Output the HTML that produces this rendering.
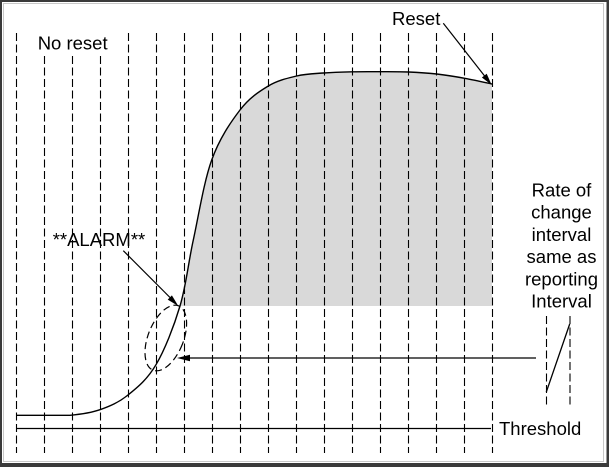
<!DOCTYPE html>
<html>
<head>
<meta charset="utf-8">
<style>
html,body{margin:0;padding:0;background:#fff;}
svg{display:block;}
text{font-family:"Liberation Sans",Arial,sans-serif;font-size:18.5px;fill:#000;}
</style>
</head>
<body>
<svg width="609" height="467" viewBox="0 0 609 467" xmlns="http://www.w3.org/2000/svg">
<rect x="0" y="0" width="609" height="467" fill="#fff"/>
<!-- gray fill -->
<path fill="#d9d9d9" d="M180,306 C186.2,285.2 188,264.3 193.3,240 C198.6,215.7 203.9,181.7 211.7,160 C219.5,138.3 230.6,122.3 240,110 C249.4,97.7 258.9,91.7 268.3,86 C277.8,80.3 287.5,78.2 296.7,76 C305.9,73.8 314.1,73.7 323.3,73 C332.5,72.3 342.6,72 352,71.8 C361.5,71.6 370.6,71.7 380,71.7 C389.5,71.7 399.3,71.6 408.7,72 C418.2,72.4 427.4,73 436.7,74 C446,75.1 455.5,76.6 464.7,78.3 C473.9,80 482.8,82 492,84 L492,306 Z"/>
<!-- dashed verticals -->
<g stroke="#000" stroke-width="1.1" stroke-dasharray="8,3.5" fill="none">
<line x1="16.5" y1="33" x2="16.5" y2="453"/>
<line x1="44.5" y1="56" x2="44.5" y2="453"/>
<line x1="72.5" y1="56" x2="72.5" y2="453"/>
<line x1="100.5" y1="56" x2="100.5" y2="453"/>
<line x1="128.5" y1="33" x2="128.5" y2="453"/>
<line x1="156.5" y1="33" x2="156.5" y2="453"/>
<line x1="184.5" y1="33" x2="184.5" y2="453"/>
<line x1="212.5" y1="33" x2="212.5" y2="453"/>
<line x1="240.5" y1="33" x2="240.5" y2="453"/>
<line x1="268.5" y1="33" x2="268.5" y2="453"/>
<line x1="296.5" y1="33" x2="296.5" y2="453"/>
<line x1="324.5" y1="33" x2="324.5" y2="453"/>
<line x1="352.5" y1="33" x2="352.5" y2="453"/>
<line x1="380.5" y1="33" x2="380.5" y2="453"/>
<line x1="408.5" y1="33" x2="408.5" y2="453"/>
<line x1="436.5" y1="33" x2="436.5" y2="453"/>
<line x1="464.5" y1="33" x2="464.5" y2="453"/>
<line x1="492.5" y1="33" x2="492.5" y2="453"/>
<line x1="546.5" y1="316" x2="546.5" y2="405"/>
<line x1="570" y1="316" x2="570" y2="405"/>
<ellipse cx="165.8" cy="338" rx="17.7" ry="34.6" transform="rotate(21.6 165.8 338)" stroke-width="1.2" stroke-dasharray="7,4"/>
</g>
<!-- main curve -->
<path fill="none" stroke="#000" stroke-width="1.4" d="M16,415.3 L70,415.3 C79.7,414.4 90.3,413.1 100,409.7 C109.7,406.3 118.7,402.5 128,395 C137.3,387.5 147.3,379.5 156,364.7 C164.7,349.9 173.8,326.8 180,306 C186.2,285.2 188,264.3 193.3,240 C198.6,215.7 203.9,181.7 211.7,160 C219.5,138.3 230.6,122.3 240,110 C249.4,97.7 258.9,91.7 268.3,86 C277.8,80.3 287.5,78.2 296.7,76 C305.9,73.8 314.1,73.7 323.3,73 C332.5,72.3 342.6,72 352,71.8 C361.5,71.6 370.6,71.7 380,71.7 C389.5,71.7 399.3,71.6 408.7,72 C418.2,72.4 427.4,73 436.7,74 C446,75.1 455.5,76.6 464.7,78.3 C473.9,80 482.8,82 492,84"/>
<!-- threshold line -->
<line x1="16" y1="428.5" x2="491" y2="428.5" stroke="#000" stroke-width="1.3"/>
<!-- horizontal arrow -->
<line x1="186" y1="358" x2="536" y2="358" stroke="#000" stroke-width="1.2"/>
<polygon points="177,358 190,354.8 190,361.2" fill="#000"/>
<!-- slanted line right -->
<line x1="569.7" y1="324" x2="546.3" y2="392" stroke="#000" stroke-width="1.3"/>
<!-- ALARM arrow -->
<line x1="123.3" y1="250.7" x2="172" y2="299.5" stroke="#000" stroke-width="1.2"/>
<polygon points="178.3,306 167.7,299.6 171.9,295.4" fill="#000"/>
<!-- Reset arrow -->
<line x1="443.3" y1="23.3" x2="486" y2="77.8" stroke="#000" stroke-width="1.2"/>
<polygon points="491.7,85 481.9,77.5 486.7,73.8" fill="#000"/>
<!-- text -->
<text x="37.7" y="49.3">No reset</text>
<text x="392" y="25">Reset</text>
<text x="52.7" y="246">**ALARM**</text>
<text x="499" y="435">Threshold</text>
<g text-anchor="middle">
<text x="561.5" y="196.5">Rate of</text>
<text x="561.5" y="218.7">change</text>
<text x="561.5" y="240.9">interval</text>
<text x="561.5" y="263.1">same as</text>
<text x="561.5" y="285.3">reporting</text>
<text x="561.5" y="307.5">Interval</text>
</g>
<!-- border -->
<rect x="0" y="0" width="609" height="2" fill="#3a3a3a"/>
<rect x="0" y="0" width="2" height="467" fill="#3a3a3a"/>
<rect x="606.5" y="0" width="2.5" height="467" fill="#3a3a3a"/>
<rect x="0" y="463" width="609" height="4" fill="#3a3a3a"/>
<rect x="3.5" y="3.5" width="600" height="458" fill="none" stroke="#c8c8c8" stroke-width="1"/>
</svg>
</body>
</html>
